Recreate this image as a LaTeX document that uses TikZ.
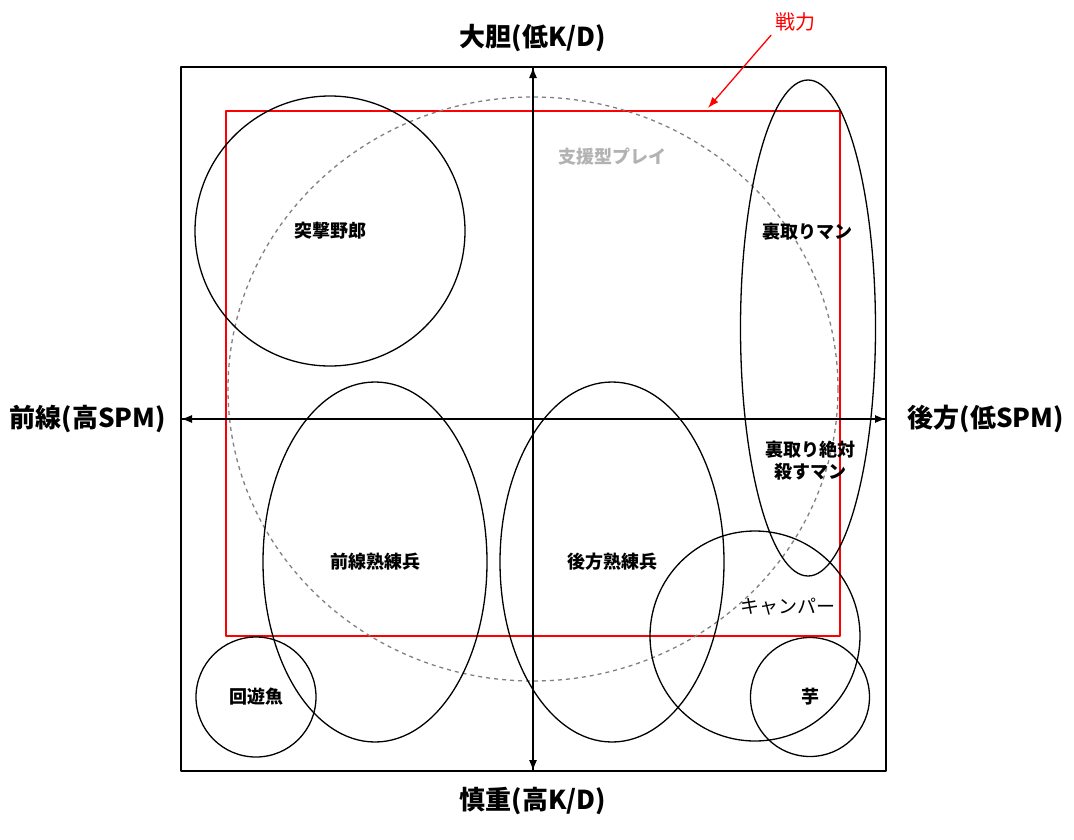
\documentclass[tikz,border=0pt]{standalone}
\usepackage{fontspec}
\setmainfont{Noto Sans CJK JP}
\usetikzlibrary{shapes.geometric,arrows.meta}
\tikzstyle{every path}=[line width=1.3pt, line cap=round, line join=round]

\begin{document}
\begin{tikzpicture}[x=1pt, y=-1pt,
    axislbl/.style={font=\bfseries\fontsize{26}{30}\selectfont},
    lbl/.style={font=\bfseries\fontsize{18}{22}\selectfont, align=center},
    zone/.style={ellipse, draw, line width=1.3pt, inner sep=0pt},
    tip/.style={-{Latex[length=11pt,width=8pt]}}]
          \useasboundingbox (0,0) rectangle (1074,839);
          %marco
          \draw (181,67) rectangle (886,771);
          %zona de fuerza
          \draw[red] (226,111) rectangle (840,636);
          %apoyo
          \node[zone, draw=gray, dashed, dash pattern=on 4pt off 4pt, line cap=butt,
                minimum width=610pt, minimum height=584pt] (shien) at (533,389) {};
          \node[lbl, gray!60] (shienlbl) at (612,157) {支援型プレイ};
          %ejes
          \coordinate (top) at (533,67);
          \coordinate (bottom) at (533,771);
          \coordinate (left) at (181,419);
          \coordinate (right) at (886,419);
          \draw[tip] (bottom) -- (top);
          \draw[tip] (top) -- (bottom);
          \draw[tip] (left) -- (right);
          \draw[tip] (right) -- (left);
          \node[axislbl] (daitan) at (533,38) {大胆(低K/D)};
          \node[axislbl] (shincho) at (533,801) {慎重(高K/D)};
          \node[axislbl] (zensen) at (88,419) {前線(高SPM)};
          \node[axislbl] (koho) at (986,419) {後方(低SPM)};
          %tipos
          \node[zone, minimum width=270pt, minimum height=270pt, lbl] (totsugeki) at (330,231) {突撃野郎};
          \node[zone, minimum width=224pt, minimum height=360pt, lbl] (zensenjuku) at (375,562) {前線熟練兵};
          \node[zone, minimum width=224pt, minimum height=360pt, lbl] (kohojuku) at (612,562) {後方熟練兵};
          \node[zone, minimum width=120pt, minimum height=120pt, lbl] (kaiyu) at (256,697) {回遊魚};
          \node[zone, minimum width=135pt, minimum height=496pt] (uradori) at (808,328) {};
          \node[lbl] (uradorilbl) at (807,232) {裏取りマン};
          \node[lbl] (uradorikoro) at (810,461) {裏取り絶対\\殺すマン};
          \node[zone, minimum width=210pt, minimum height=210pt] (camper) at (755,636) {};
          \node[font=\fontsize{19}{22}\selectfont] (camperlbl) at (788,607) {キャンパー};
          \node[zone, minimum width=119pt, minimum height=119pt, lbl] (imo) at (810,697) {芋};
          %fuerza
          \node[red, font=\fontsize{20}{24}\selectfont] (senryoku) at (795,22) {戦力};
          \coordinate (senryokutip) at (708,108);
          \draw[red, tip] (senryoku.south west) -- (senryokutip);
        \end{tikzpicture}
\end{document}
